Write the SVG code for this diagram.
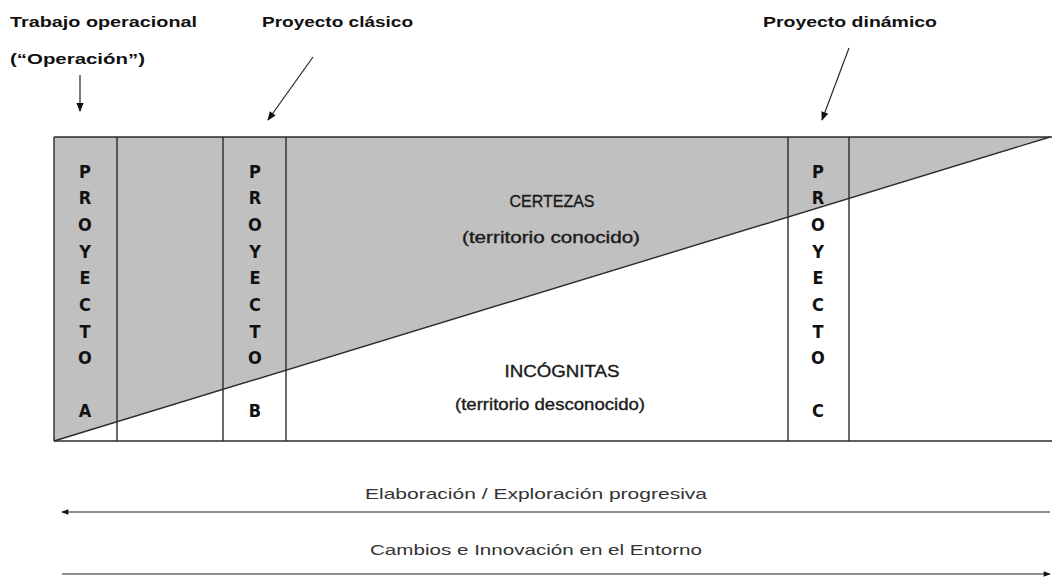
<svg xmlns="http://www.w3.org/2000/svg" width="1052" height="578" viewBox="0 0 1052 578">
<defs>
<style>
.ln{stroke:#2b2b2b;stroke-width:1.4;fill:none}
.hd{font-family:"Liberation Sans",Arial,sans-serif;font-weight:bold;font-size:15.5px;fill:#111}
.lt{font-family:"DejaVu Sans Condensed","Liberation Sans",Arial,sans-serif;font-weight:bold;font-size:18px;fill:#111;text-anchor:middle}
.md{font-family:"Liberation Sans",Arial,sans-serif;font-size:16px;fill:#1a1a1a;text-anchor:middle;stroke:#1a1a1a;stroke-width:0.35}
.th{font-family:"Liberation Sans",Arial,sans-serif;font-size:15px;fill:#333;text-anchor:middle}
.ar{stroke:#222;stroke-width:1.2;fill:none}
</style>
<marker id="ah" viewBox="0 0 10 10" refX="9" refY="5" markerWidth="10" markerHeight="9" orient="auto" markerUnits="userSpaceOnUse">
<path d="M0,1 L10,5 L0,9 Z" fill="#111"/>
</marker>
<marker id="ah2" viewBox="0 0 10 10" refX="9" refY="5" markerWidth="9" markerHeight="7" orient="auto" markerUnits="userSpaceOnUse">
<path d="M0,1 L10,5 L0,9 Z" fill="#111"/>
</marker>
</defs>
<rect width="1052" height="578" fill="#fff"/>
<g id="chart">
<polygon points="54,137 1050,137 54,441" fill="#c0c0c0"/>
<line class="ln" x1="54" y1="137" x2="1052" y2="137"/>
<line class="ln" x1="54" y1="441" x2="1052" y2="441"/>
<line class="ln" x1="54" y1="137" x2="54" y2="441"/>
<line class="ln" x1="117" y1="137" x2="117" y2="441"/>
<line class="ln" x1="223" y1="137" x2="223" y2="441"/>
<line class="ln" x1="286" y1="137" x2="286" y2="441"/>
<line class="ln" x1="788" y1="137" x2="788" y2="441"/>
<line class="ln" x1="849" y1="137" x2="849" y2="441"/>
<line class="ln" x1="54" y1="441" x2="1050" y2="137"/>
</g>
<g id="proyecto-a">
<text class="lt" x="85" y="178">P</text>
<text class="lt" x="85" y="204">R</text>
<text class="lt" x="85" y="231">O</text>
<text class="lt" x="85" y="258">Y</text>
<text class="lt" x="85" y="284">E</text>
<text class="lt" x="85" y="311">C</text>
<text class="lt" x="85" y="338">T</text>
<text class="lt" x="85" y="364">O</text>
<text class="lt" x="85" y="417">A</text>
</g>
<g id="proyecto-b">
<text class="lt" x="255" y="178">P</text>
<text class="lt" x="255" y="204">R</text>
<text class="lt" x="255" y="231">O</text>
<text class="lt" x="255" y="258">Y</text>
<text class="lt" x="255" y="284">E</text>
<text class="lt" x="255" y="311">C</text>
<text class="lt" x="255" y="338">T</text>
<text class="lt" x="255" y="364">O</text>
<text class="lt" x="255" y="417">B</text>
</g>
<g id="proyecto-c">
<text class="lt" x="818" y="178">P</text>
<text class="lt" x="818" y="204">R</text>
<text class="lt" x="818" y="231">O</text>
<text class="lt" x="818" y="258">Y</text>
<text class="lt" x="818" y="284">E</text>
<text class="lt" x="818" y="311">C</text>
<text class="lt" x="818" y="338">T</text>
<text class="lt" x="818" y="364">O</text>
<text class="lt" x="818" y="417">C</text>
</g>
<g id="certezas">
<text class="md" x="552" y="207" textLength="85" lengthAdjust="spacingAndGlyphs">CERTEZAS</text>
<text class="md" x="551" y="243" textLength="178" lengthAdjust="spacingAndGlyphs">(territorio conocido)</text>
</g>
<g id="incognitas">
<text class="md" x="562" y="377" textLength="115" lengthAdjust="spacingAndGlyphs">INCÓGNITAS</text>
<text class="md" x="550" y="410" textLength="190" lengthAdjust="spacingAndGlyphs">(territorio desconocido)</text>
</g>
<g id="label-operacion">
<text class="hd" x="10" y="27" textLength="187" lengthAdjust="spacingAndGlyphs">Trabajo operacional</text>
<text class="hd" x="10" y="64" textLength="135" lengthAdjust="spacingAndGlyphs">(“Operación”)</text>
</g>
<g id="label-clasico">
<text class="hd" x="262" y="27" textLength="151" lengthAdjust="spacingAndGlyphs">Proyecto clásico</text>
</g>
<g id="label-dinamico">
<text class="hd" x="763" y="27" textLength="174" lengthAdjust="spacingAndGlyphs">Proyecto dinámico</text>
</g>
<g id="label-elaboracion">
<text class="th" x="536" y="499" textLength="342" lengthAdjust="spacingAndGlyphs">Elaboración / Exploración progresiva</text>
</g>
<g id="label-cambios">
<text class="th" x="536" y="555" textLength="332" lengthAdjust="spacingAndGlyphs">Cambios e Innovación en el Entorno</text>
</g>
<g id="connectors">
<line class="ar" x1="80" y1="75" x2="80" y2="111" marker-end="url(#ah)"/>
<line class="ar" x1="313" y1="57" x2="268" y2="120" marker-end="url(#ah)"/>
<line class="ar" x1="849" y1="48" x2="822" y2="120" marker-end="url(#ah)"/>
<line class="ar" x1="1050" y1="512" x2="62" y2="512" marker-end="url(#ah2)"/>
<line class="ar" x1="62" y1="574" x2="1050" y2="574" marker-end="url(#ah2)"/>
</g>
</svg>
